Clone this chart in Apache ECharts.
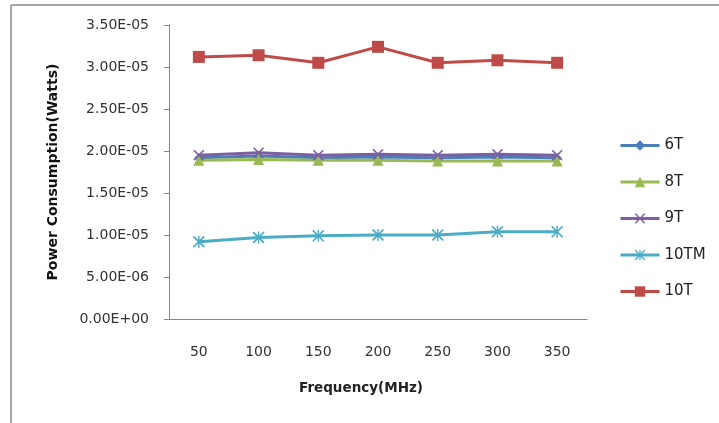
<!DOCTYPE html>
<html><head><meta charset="utf-8">
<script src="https://cdn.jsdelivr.net/npm/echarts@6/dist/echarts.min.js"></script>
<style>html,body{margin:0;padding:0;background:#fff}#c{width:719px;height:423px}</style>
</head><body><div id="c"></div>
<script>
var categories = ['50','100','150','200','250','300','350'];
var s6T   = [1.92e-5, 1.94e-5, 1.92e-5, 1.93e-5, 1.92e-5, 1.93e-5, 1.92e-5];
var s8T   = [1.89e-5, 1.90e-5, 1.89e-5, 1.89e-5, 1.88e-5, 1.88e-5, 1.88e-5];
var s9T   = [1.95e-5, 1.98e-5, 1.95e-5, 1.96e-5, 1.95e-5, 1.96e-5, 1.95e-5];
var s10TM = [0.92e-5, 0.97e-5, 0.99e-5, 1.00e-5, 1.00e-5, 1.04e-5, 1.04e-5];
var s10T  = [3.12e-5, 3.14e-5, 3.05e-5, 3.24e-5, 3.05e-5, 3.08e-5, 3.05e-5];
var seriesNames = ['6T','8T','9T','10TM','10T'];

var xPath = 'path://M0,1L1,0L5,4L9,0L10,1L6,5L10,9L9,10L5,6L1,10L0,9L4,5Z';
var starPath = 'path://M0,1L1,0L5,4L9,0L10,1L6,5L10,9L9,10L5,6L1,10L0,9L4,5Z M4.4,0L5.6,0L5.6,10L4.4,10Z';

function fmt(v){
  var s = v.toExponential(2);
  var parts = s.split('e');
  var exp = parseInt(parts[1],10);
  var sign = exp < 0 ? '-' : '+';
  var a = Math.abs(exp);
  return parts[0] + 'E' + sign + (a < 10 ? '0' + a : '' + a);
}

var font = 'DejaVu Sans, sans-serif';
function mk(name, data, color, symbol, size){
  return {name:name, type:'line', data:data, symbol:symbol, symbolSize:size,
    showAllSymbol:true,
    lineStyle:{color:color, width:3}, itemStyle:{color:color}, emphasis:{disabled:true}};
}
var chart = echarts.init(document.getElementById('c'));
chart.setOption({
  animation:false,
  backgroundColor:'#fff',
  textStyle:{fontFamily:font},
  graphic:[
    {type:'line', shape:{x1:11,y1:5,x2:719,y2:5}, style:{stroke:'#a6a6a6', lineWidth:2}},
    {type:'line', shape:{x1:11,y1:5,x2:11,y2:423}, style:{stroke:'#a6a6a6', lineWidth:2}}
  ],
  grid:{left:169, top:25, width:418, height:294, containLabel:false},
  legend:{orient:'vertical', left:614, top:133, itemWidth:39, itemHeight:13, itemGap:21.5,
    lineStyle:{width:3},
    data:seriesNames, textStyle:{fontSize:15, color:'#222', fontFamily:font}},
  xAxis:{type:'category', data:categories, boundaryGap:true,
    name:'Frequency(MHz)', nameLocation:'middle', nameGap:62,
    nameTextStyle:{fontWeight:'bold', fontSize:13.5, color:'#222', padding:[0,34,0,0]},
    axisLine:{lineStyle:{color:'#868686', width:1}}, axisTick:{show:false},
    axisLabel:{margin:26, fontSize:14, color:'#333'}},
  yAxis:{type:'value', min:0, max:3.5e-5, interval:0.5e-5,
    name:'Power Consumption(Watts)', nameLocation:'middle', nameGap:109,
    nameTextStyle:{fontWeight:'bold', fontSize:14, color:'#111'},
    axisLine:{show:true, lineStyle:{color:'#868686'}},
    axisTick:{show:true, length:5, lineStyle:{color:'#868686'}},
    splitLine:{show:false},
    axisLabel:{margin:20, fontSize:14, color:'#333', formatter:fmt}},
  series:[
    mk('6T', s6T, '#4A7EBB', 'diamond', 9),
    mk('8T', s8T, '#98B954', 'triangle', 11),
    mk('9T', s9T, '#7D5FA0', xPath, 11),
    mk('10TM', s10TM, '#4BACC6', starPath, 12),
    mk('10T', s10T, '#BE4B48', 'rect', 12)
  ]
});
</script></body></html>
